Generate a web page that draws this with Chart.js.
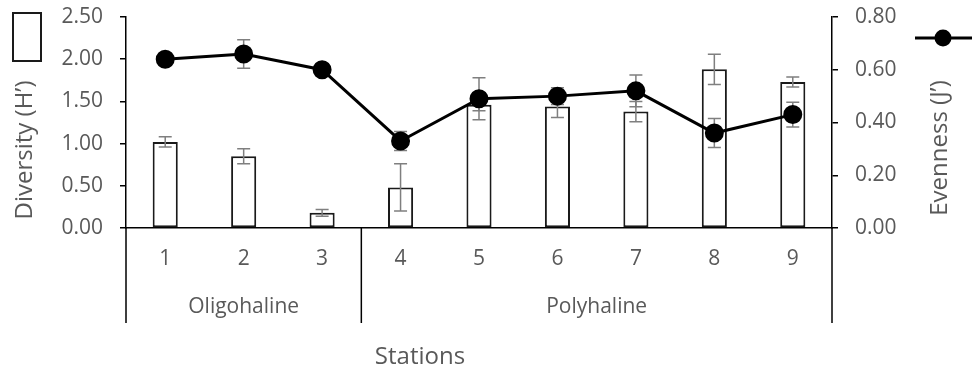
<!DOCTYPE html>
<html lang="en">
<head>
  <meta charset="UTF-8" />
  <title>Diversity and Evenness by Station</title>
  <script src="https://cdn.jsdelivr.net/npm/chart.js"></script>
  <style>
    body { margin: 0; background: #fff; }
    #wrap { width: 976px; height: 373px; }
  </style>
</head>
<body>
  <div id="wrap"><canvas id="chart" width="976" height="373"></canvas></div>

  <script>
    // stations and their salinity zone
    const stations = ['1', '2', '3', '4', '5', '6', '7', '8', '9'];
    const salinity = ['Oligohaline', 'Oligohaline', 'Oligohaline',
      'Polyhaline', 'Polyhaline', 'Polyhaline', 'Polyhaline', 'Polyhaline', 'Polyhaline'];

    // Shannon diversity (H') and error
    const diversity = [1.02, 0.85, 0.18, 0.48, 1.46, 1.44, 1.38, 1.88, 1.73];
    const diversityErr = [0.06, 0.09, 0.04, 0.28, 0.07, 0.13, 0.12, 0.18, 0.06];

    // Pielou evenness (J') and error
    const evenness = [0.64, 0.66, 0.60, 0.33, 0.49, 0.50, 0.52, 0.36, 0.43];
    const evennessErr = [0.01, 0.054, 0.01, 0.036, 0.08, 0.032, 0.06, 0.055, 0.047];

    const GREY = '#595959';
    const FONT = "'Open Sans', sans-serif";

    const drawErrors = (chart, meta, values, errs, yScale) => {
      const ctx = chart.ctx;
      ctx.save();
      ctx.strokeStyle = '#7f7f7f';
      ctx.lineWidth = 1.5;
      meta.data.forEach((el, i) => {
        const x = el.x;
        const top = yScale.getPixelForValue(values[i] + errs[i]);
        const bot = yScale.getPixelForValue(values[i] - errs[i]);
        ctx.beginPath();
        ctx.moveTo(x, top); ctx.lineTo(x, bot);
        ctx.moveTo(x - 6.5, top); ctx.lineTo(x + 6.5, top);
        ctx.moveTo(x - 6.5, bot); ctx.lineTo(x + 6.5, bot);
        ctx.stroke();
      });
      ctx.restore();
    };

    const errorBars = {
      id: 'errorBars',
      afterDatasetDraw(chart, args) {
        if (args.index === 0) drawErrors(chart, args.meta, diversity, diversityErr, chart.scales.y);
      },
      beforeDatasetDraw(chart, args) {
        if (args.index === 1) drawErrors(chart, args.meta, evenness, evennessErr, chart.scales.y2);
      }
    };

    // group labels, dividers, axis titles, legend
    const extras = {
      id: 'extras',
      afterDraw(chart) {
        const ctx = chart.ctx;
        const x = chart.scales.x;
        const area = chart.chartArea;
        ctx.save();

        // salinity groups under the station numbers
        const groups = [];
        salinity.forEach((g, i) => {
          const last = groups[groups.length - 1];
          if (last && last.name === g) last.end = i;
          else groups.push({ name: g, start: i, end: i });
        });
        ctx.strokeStyle = '#000';
        ctx.lineWidth = 1.5;
        ctx.fillStyle = GREY;
        ctx.font = '21px ' + FONT;
        ctx.textAlign = 'center';
        ctx.textBaseline = 'middle';
        groups.forEach((g, k) => {
          const x0 = x.getPixelForValue(g.start - 0.5);
          const x1 = x.getPixelForValue(g.end + 0.5);
          ctx.beginPath();
          if (k === 0) { ctx.moveTo(x0, area.bottom); ctx.lineTo(x0, 323); }
          ctx.moveTo(x1, area.bottom); ctx.lineTo(x1, 323);
          ctx.stroke();
          ctx.fillText(g.name, (x0 + x1) / 2, 307);
        });

        // axis titles
        ctx.font = '24px ' + FONT;
        ctx.fillText('Stations', 420, 357);
        ctx.save();
        ctx.translate(25, 150);
        ctx.rotate(-Math.PI / 2);
        ctx.fillText('Diversity (H\u2019)', 0, 0);
        ctx.restore();
        ctx.save();
        ctx.translate(940, 148);
        ctx.rotate(-Math.PI / 2);
        ctx.fillText('Evenness (J\u2019)', 0, 0);
        ctx.restore();

        // legend
        ctx.fillStyle = '#fff';
        ctx.strokeStyle = '#1a1a1a';
        ctx.lineWidth = 2;
        ctx.fillRect(13, 13, 28, 48);
        ctx.strokeRect(13, 13, 28, 48);
        ctx.strokeStyle = '#000';
        ctx.lineWidth = 3;
        ctx.beginPath();
        ctx.moveTo(915, 38); ctx.lineTo(972, 38);
        ctx.stroke();
        ctx.fillStyle = '#000';
        ctx.beginPath();
        ctx.arc(943, 38, 8.5, 0, Math.PI * 2);
        ctx.fill();

        ctx.restore();
      }
    };

    // fixed axis widths, and no extra top room for the tick labels
    const fitY = (width) => (s) => {
      s.width = width;
      s.paddingTop = 0;
      s.paddingBottom = 0;
    };

    new Chart(document.getElementById('chart'), {
      data: {
        labels: stations,
        datasets: [{
          type: 'bar',
          label: 'Diversity (H\u2019)',
          data: diversity,
          yAxisID: 'y',
          backgroundColor: '#fff',
          borderColor: '#1a1a1a',
          borderWidth: 2,
          borderSkipped: false,
          categoryPercentage: 1,
          barPercentage: 0.32,
          order: 1
        }, {
          type: 'line',
          label: 'Evenness (J\u2019)',
          data: evenness,
          yAxisID: 'y2',
          borderColor: '#000',
          borderWidth: 3,
          backgroundColor: '#000',
          pointBackgroundColor: '#000',
          pointBorderColor: '#000',
          pointRadius: 8,
          tension: 0,
          order: 0
        }]
      },
      options: {
        responsive: false,
        devicePixelRatio: 1,
        animation: false,
        layout: { padding: { top: 17, left: 0, right: 0, bottom: 0 } },
        plugins: {
          legend: { display: false },
          tooltip: { enabled: false }
        },
        scales: {
          x: {
            offset: true,
            grid: { display: false, drawTicks: false },
            border: { display: true, color: '#000', width: 1.5 },
            ticks: { color: GREY, font: { family: FONT, size: 21 }, padding: 18 },
            afterFit: (s) => { s.height = 145; }
          },
          y: {
            position: 'left',
            min: 0,
            max: 2.5,
            ticks: {
              stepSize: 0.5,
              color: GREY,
              padding: 17,
              font: { family: FONT, size: 21 },
              callback: (v) => v.toFixed(2)
            },
            grid: { drawOnChartArea: false, drawTicks: true, tickLength: 6, color: '#000', lineWidth: 1.5 },
            border: { color: '#000', width: 1.5 },
            afterFit: fitY(126)
          },
          y2: {
            position: 'right',
            min: 0,
            max: 0.8,
            ticks: {
              stepSize: 0.2,
              color: GREY,
              padding: 17,
              font: { family: FONT, size: 21 },
              callback: (v) => v.toFixed(2)
            },
            grid: { drawOnChartArea: false, drawTicks: true, tickLength: 6, color: '#000', lineWidth: 1.5 },
            border: { color: '#000', width: 1.5 },
            afterFit: fitY(144)
          }
        }
      },
      plugins: [errorBars, extras]
    });
  </script>
</body>
</html>
